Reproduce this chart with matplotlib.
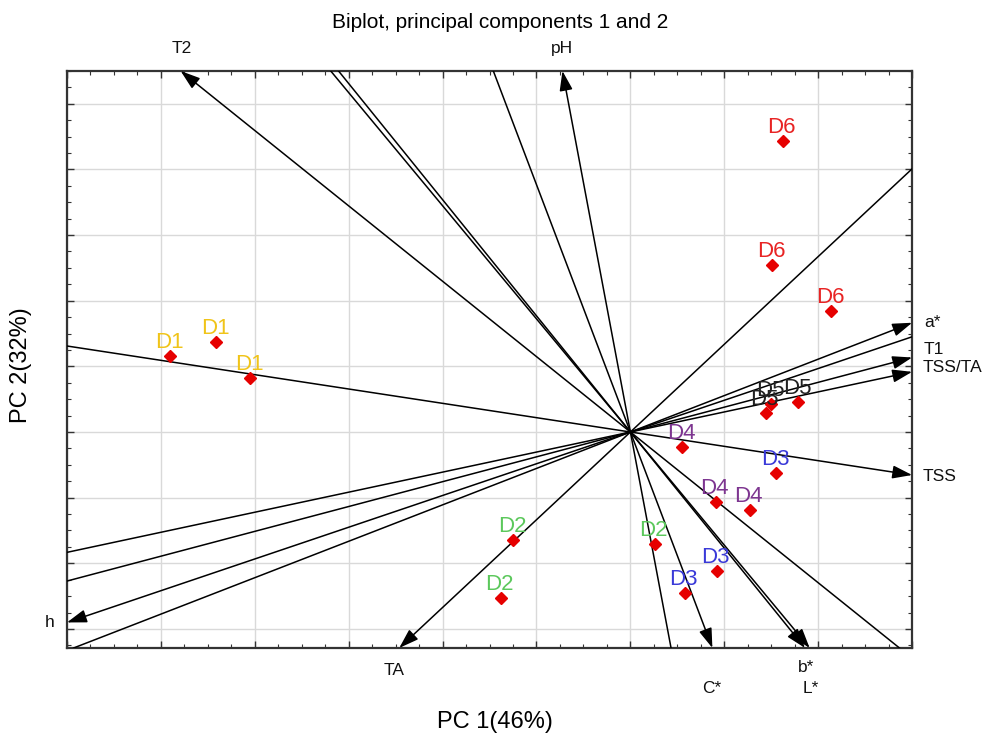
import matplotlib
matplotlib.use('Agg')
import matplotlib.pyplot as plt
from matplotlib.ticker import MultipleLocator, AutoMinorLocator
import numpy as np

plt.rcParams['font.family'] = ['Liberation Sans', 'DejaVu Sans']

# PCA scores of the samples (PC1, PC2)
sample_names = ['D1', 'D1', 'D1', 'D2', 'D2', 'D2', 'D3', 'D3', 'D3',
                'D4', 'D4', 'D4', 'D5', 'D5', 'D5', 'D6', 'D6', 'D6']
pc1 = [-4.90, -4.41, -4.05, -1.25, 0.26, -1.38, 1.55, 0.92, 0.58,
       0.55, 0.91, 1.27, 1.44, 1.50, 1.79, 1.62, 1.51, 2.14]
pc2 = [1.16, 1.37, 0.82, -1.65, -1.71, -2.53, -0.62, -2.11, -2.46,
       -0.23, -1.07, -1.19, 0.29, 0.43, 0.46, 4.44, 2.54, 1.84]

# variable loadings (PC1, PC2)
var_names = ['T2', 'pH', 'a*', 'T1', 'TSS/TA', 'TSS', 'h', 'TA', 'C*', 'b*', 'L*']
load1 = [-0.58, -0.11, 0.82, 0.88, 0.90, 0.87, -0.79, -0.52, 0.22, 0.46, 0.47]
load2 = [0.666, 0.836, 0.455, 0.333, 0.275, -0.19, -0.382, -0.695, -0.829, -0.814, -0.81]

group_colors = {'D1': '#f0c419', 'D2': '#5cc85c', 'D3': '#3a3ad8',
                'D4': '#7d3590', 'D5': '#222222', 'D6': '#e82424'}

# where each variable name sits relative to its arrow tip (pixels) and alignment
label_pos = {'T2': (1, 22, 'center'), 'pH': (0, 22, 'center'),
             'a*': (12, 0, 'left'), 'T1': (12, 8, 'left'),
             'TSS/TA': (11, 4, 'left'), 'TSS': (11, -1, 'left'),
             'h': (-17, 0, 'center'), 'TA': (-5, -23, 'center'),
             'C*': (-1, -41, 'center'), 'b*': (1, -20, 'center'),
             'L*': (1, -41, 'center')}

xmin, xmax = -6.0, 3.0
ymin, ymax = -3.29, 5.5

fig = plt.figure(figsize=(9.85, 7.37), dpi=100)
ax = fig.add_axes([0.068, 0.1208, 0.858, 0.7829])
ax.set_xlim(xmin, xmax)
ax.set_ylim(ymin, ymax)

ax.xaxis.set_major_locator(MultipleLocator(1))
ax.yaxis.set_major_locator(MultipleLocator(1))
ax.xaxis.set_minor_locator(AutoMinorLocator(4))
ax.yaxis.set_minor_locator(AutoMinorLocator(4))
ax.tick_params(which='both', direction='in', top=True, right=True,
               labelbottom=False, labelleft=False, color='#333333')
ax.tick_params(which='major', length=5, width=1)
ax.tick_params(which='minor', length=3, width=0.8)
ax.grid(True, which='major', color='#d9d9d9', lw=1)
ax.set_axisbelow(True)
for s in ax.spines.values():
    s.set_linewidth(1.6)
    s.set_color('#333333')


def edge_t(u, v):
    # distance along (u, v) from the origin to the plot border
    ts = []
    if u > 0: ts.append(xmax / u)
    if u < 0: ts.append(xmin / u)
    if v > 0: ts.append(ymax / v)
    if v < 0: ts.append(ymin / v)
    return min(ts)


# variable lines through the origin, arrow at the loading end
for name, u, v in zip(var_names, load1, load2):
    tf = edge_t(u, v)
    tb = edge_t(-u, -v)
    ax.plot([-u * tb, 0], [-v * tb, 0], color='black', lw=1.1, zorder=3)
    ax.annotate('', xy=(u * tf, v * tf), xytext=(0, 0),
                arrowprops=dict(arrowstyle='-|>,head_length=1.2,head_width=0.4',
                                color='black', lw=1.1, shrinkA=0, shrinkB=0),
                zorder=3, annotation_clip=False)
    dx, dy, ha = label_pos[name]
    ax.annotate(name, xy=(u * tf, v * tf), xytext=(dx, dy), textcoords='offset pixels',
                ha=ha, va='center', fontsize=12.5, color='#111111',
                annotation_clip=False)

# sample scores
ax.plot(pc1, pc2, 'D', color='#e60000', ms=6, zorder=4, linestyle='none')
for name, x, y in zip(sample_names, pc1, pc2):
    ax.annotate(name, xy=(x, y), xytext=(-1, 3), textcoords='offset pixels',
                ha='center', va='bottom', fontsize=16,
                color=group_colors[name], zorder=5)

fig.text(500 / 985, 1 - 22 / 737, 'Biplot, principal components 1 and 2',
         ha='center', va='center', fontsize=15)
fig.text(495 / 985, 1 - 722 / 737, 'PC 1(46%)', ha='center', va='center', fontsize=17)
fig.text(21 / 985, 1 - 365 / 737, 'PC 2(32%)', ha='center', va='center',
         fontsize=17, rotation=90)

fig.savefig('out.png', dpi=100)
